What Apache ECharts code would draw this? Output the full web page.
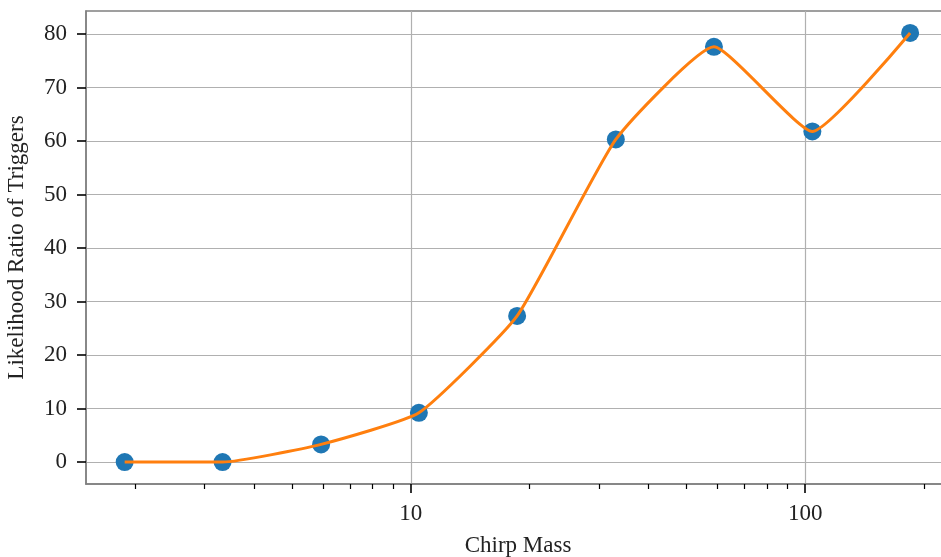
<!DOCTYPE html>
<html>
<head>
<meta charset="utf-8">
<script src="https://cdn.jsdelivr.net/npm/echarts@6/dist/echarts.min.js"></script>
<style>
  html, body { margin: 0; padding: 0; background: #fff; }
  #chart { width: 941px; height: 557px; }
</style>
</head>
<body>
<div id="chart"></div>
<script>
// Chirp mass bins (log scale) and the likelihood ratio of triggers in each bin
const chirpMass = [1.88, 3.33, 5.92, 10.48, 18.6, 33.1, 58.7, 104.3, 184.6];
const likelihoodRatio = [0, 0, 3.3, 9.2, 27.3, 60.3, 77.6, 61.8, 80.2];

// Axis ticks
const xMajorTicks = [10, 100];
const xMinorTicks = [2, 3, 4, 5, 6, 7, 8, 9, 20, 30, 40, 50, 60, 70, 80, 90, 200];
const yTicks = [0, 10, 20, 30, 40, 50, 60, 70, 80];

const FONT = '"Liberation Serif", "DejaVu Serif", serif';
const xMin = 1.5, xMax = 233;

const points = chirpMass.map((m, i) => [m, likelihoodRatio[i]]);

const chart = echarts.init(document.getElementById('chart'), null, { renderer: 'canvas' });

chart.setOption({
  animation: false,
  backgroundColor: '#ffffff',
  grid: {
    left: 86, top: 11, right: -9, bottom: 73,
    containLabel: false, outerBoundsMode: 'none',
    show: true, borderColor: '#808080', borderWidth: 1.5, backgroundColor: 'transparent'
  },
  xAxis: [
    {
      type: 'log', logBase: 10, min: xMin, max: xMax,
      name: 'Chirp Mass', nameLocation: 'middle', nameGap: 50,
      nameTextStyle: { fontFamily: FONT, fontSize: 23, color: '#222' },
      axisLine: { show: true, onZero: false, lineStyle: { color: '#808080', width: 1.5 } },
      axisTick: { show: true, length: 9, inside: false, customValues: xMajorTicks,
                  lineStyle: { color: '#000', width: 1.6 } },
      axisLabel: { show: true, customValues: xMajorTicks, margin: 18,
                   fontFamily: FONT, fontSize: 23, color: '#222' },
      splitLine: { show: true, lineStyle: { color: '#b0b0b0', width: 1.2 } },
      minorTick: { show: false }
    },
    {
      type: 'log', logBase: 10, min: xMin, max: xMax, position: 'bottom',
      axisLine: { show: false, onZero: false },
      axisTick: { show: true, length: 5, customValues: xMinorTicks,
                  lineStyle: { color: '#000', width: 1.2 } },
      axisLabel: { show: false },
      splitLine: { show: false }
    }
  ],
  yAxis: {
    type: 'value', min: -4.1, max: 84.3,
    name: 'Likelihood Ratio of Triggers', nameLocation: 'middle', nameGap: 58,
    nameTextStyle: { fontFamily: FONT, fontSize: 23, color: '#222' },
    axisLine: { show: true, onZero: false, lineStyle: { color: '#808080', width: 1.5 } },
    axisTick: { show: true, length: 9, customValues: yTicks,
                lineStyle: { color: '#000', width: 1.6 } },
    axisLabel: { show: true, customValues: yTicks, margin: 19,
                 fontFamily: FONT, fontSize: 23, color: '#222' },
    splitLine: { show: true, lineStyle: { color: '#b0b0b0', width: 1.2 } }
  },
  series: [
    {
      type: 'scatter', xAxisIndex: 0, data: points,
      symbol: 'circle', symbolSize: 18,
      itemStyle: { color: '#1f77b4', opacity: 1 },
      z: 2
    },
    {
      type: 'line', xAxisIndex: 0, data: points, smooth: 0.15,
      showSymbol: false, symbol: 'none',
      lineStyle: { color: '#ff7f0e', width: 3 },
      z: 3
    }
  ]
});
</script>
</body>
</html>
